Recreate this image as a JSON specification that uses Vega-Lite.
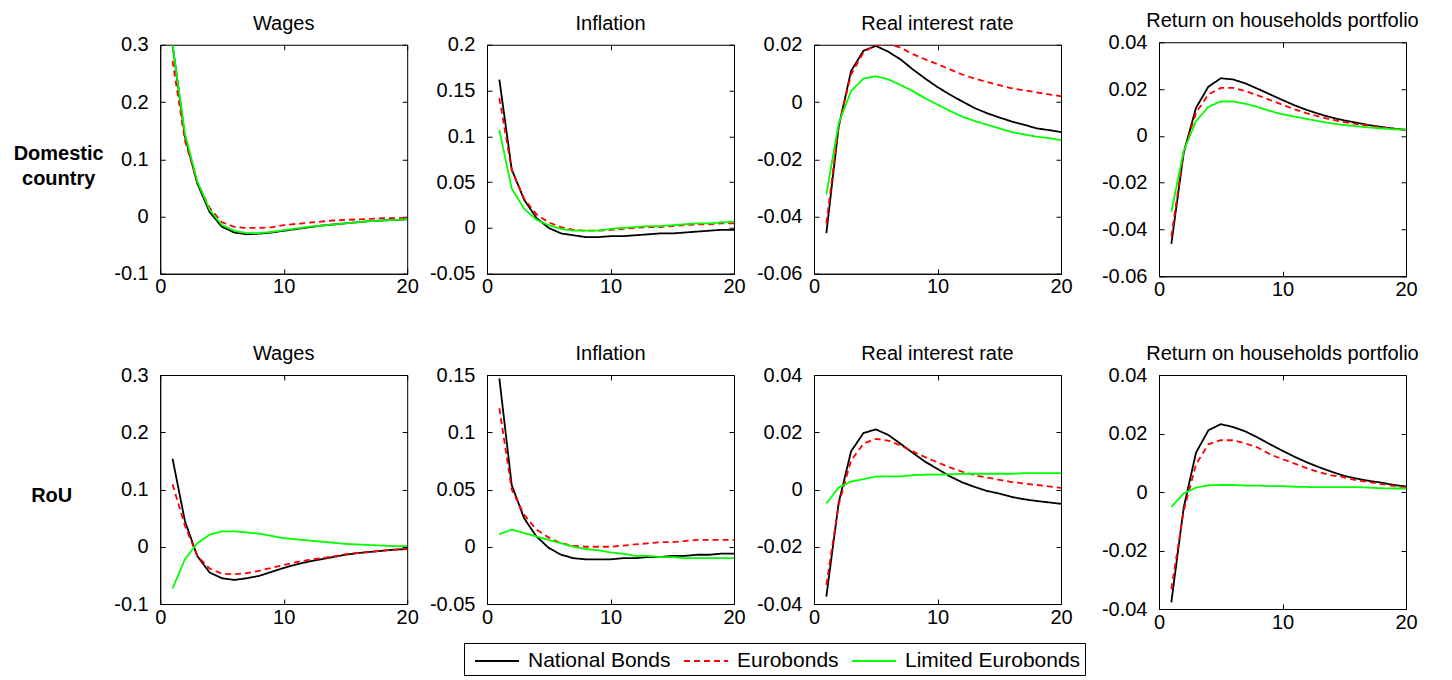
{
  "$schema": "https://vega.github.io/schema/vega-lite/v6.json",
  "padding": {"left": 12, "top": 10, "right": 5, "bottom": 2},
  "background": "#ffffff",
  "datasets": {
    "irf": [
      {"p":"DW","t":1,"NB":0.300,"EB":0.272,"LE":0.300},
      {"p":"DW","t":2,"NB":0.140,"EB":0.133,"LE":0.145},
      {"p":"DW","t":3,"NB":0.058,"EB":0.060,"LE":0.062},
      {"p":"DW","t":4,"NB":0.008,"EB":0.015,"LE":0.012},
      {"p":"DW","t":5,"NB":-0.018,"EB":-0.010,"LE":-0.015},
      {"p":"DW","t":6,"NB":-0.028,"EB":-0.018,"LE":-0.025},
      {"p":"DW","t":7,"NB":-0.031,"EB":-0.020,"LE":-0.029},
      {"p":"DW","t":8,"NB":-0.030,"EB":-0.020,"LE":-0.029},
      {"p":"DW","t":9,"NB":-0.028,"EB":-0.019,"LE":-0.027},
      {"p":"DW","t":10,"NB":-0.025,"EB":-0.015,"LE":-0.024},
      {"p":"DW","t":11,"NB":-0.022,"EB":-0.013,"LE":-0.021},
      {"p":"DW","t":12,"NB":-0.019,"EB":-0.011,"LE":-0.018},
      {"p":"DW","t":13,"NB":-0.016,"EB":-0.009,"LE":-0.016},
      {"p":"DW","t":14,"NB":-0.014,"EB":-0.007,"LE":-0.014},
      {"p":"DW","t":15,"NB":-0.012,"EB":-0.006,"LE":-0.012},
      {"p":"DW","t":16,"NB":-0.010,"EB":-0.005,"LE":-0.010},
      {"p":"DW","t":17,"NB":-0.008,"EB":-0.004,"LE":-0.008},
      {"p":"DW","t":18,"NB":-0.007,"EB":-0.003,"LE":-0.007},
      {"p":"DW","t":19,"NB":-0.006,"EB":-0.003,"LE":-0.006},
      {"p":"DW","t":20,"NB":-0.005,"EB":-0.003,"LE":-0.005},

      {"p":"DI","t":1,"NB":0.162,"EB":0.142,"LE":0.107},
      {"p":"DI","t":2,"NB":0.064,"EB":0.063,"LE":0.043},
      {"p":"DI","t":3,"NB":0.031,"EB":0.032,"LE":0.021},
      {"p":"DI","t":4,"NB":0.011,"EB":0.015,"LE":0.009},
      {"p":"DI","t":5,"NB":0.000,"EB":0.006,"LE":0.003},
      {"p":"DI","t":6,"NB":-0.006,"EB":0.001,"LE":-0.001},
      {"p":"DI","t":7,"NB":-0.008,"EB":-0.002,"LE":-0.003},
      {"p":"DI","t":8,"NB":-0.010,"EB":-0.003,"LE":-0.003},
      {"p":"DI","t":9,"NB":-0.010,"EB":-0.003,"LE":-0.003},
      {"p":"DI","t":10,"NB":-0.009,"EB":-0.002,"LE":-0.001},
      {"p":"DI","t":11,"NB":-0.009,"EB":-0.001,"LE":0.000},
      {"p":"DI","t":12,"NB":-0.008,"EB":0.000,"LE":0.001},
      {"p":"DI","t":13,"NB":-0.007,"EB":0.001,"LE":0.002},
      {"p":"DI","t":14,"NB":-0.006,"EB":0.001,"LE":0.002},
      {"p":"DI","t":15,"NB":-0.006,"EB":0.002,"LE":0.003},
      {"p":"DI","t":16,"NB":-0.005,"EB":0.003,"LE":0.004},
      {"p":"DI","t":17,"NB":-0.004,"EB":0.004,"LE":0.005},
      {"p":"DI","t":18,"NB":-0.003,"EB":0.004,"LE":0.005},
      {"p":"DI","t":19,"NB":-0.002,"EB":0.005,"LE":0.006},
      {"p":"DI","t":20,"NB":-0.002,"EB":0.005,"LE":0.007},

      {"p":"DR","t":1,"NB":-0.0458,"EB":-0.0424,"LE":-0.0323},
      {"p":"DR","t":2,"NB":-0.0086,"EB":-0.0083,"LE":-0.0074},
      {"p":"DR","t":3,"NB":0.0108,"EB":0.0096,"LE":0.0038},
      {"p":"DR","t":4,"NB":0.0179,"EB":0.0173,"LE":0.0082},
      {"p":"DR","t":5,"NB":0.0196,"EB":0.0199,"LE":0.0090},
      {"p":"DR","t":6,"NB":0.0176,"EB":0.0204,"LE":0.0079},
      {"p":"DR","t":7,"NB":0.0149,"EB":0.0190,"LE":0.0060},
      {"p":"DR","t":8,"NB":0.0114,"EB":0.0167,"LE":0.0038},
      {"p":"DR","t":9,"NB":0.0082,"EB":0.0149,"LE":0.0013},
      {"p":"DR","t":10,"NB":0.0052,"EB":0.0132,"LE":-0.0009},
      {"p":"DR","t":11,"NB":0.0026,"EB":0.0114,"LE":-0.0031},
      {"p":"DR","t":12,"NB":0.0002,"EB":0.0096,"LE":-0.0051},
      {"p":"DR","t":13,"NB":-0.0021,"EB":0.0082,"LE":-0.0066},
      {"p":"DR","t":14,"NB":-0.0039,"EB":0.0070,"LE":-0.0079},
      {"p":"DR","t":15,"NB":-0.0054,"EB":0.0059,"LE":-0.0092},
      {"p":"DR","t":16,"NB":-0.0068,"EB":0.0048,"LE":-0.0105},
      {"p":"DR","t":17,"NB":-0.0079,"EB":0.0041,"LE":-0.0113},
      {"p":"DR","t":18,"NB":-0.0092,"EB":0.0034,"LE":-0.0121},
      {"p":"DR","t":19,"NB":-0.0098,"EB":0.0027,"LE":-0.0126},
      {"p":"DR","t":20,"NB":-0.0105,"EB":0.0020,"LE":-0.0133},

      {"p":"DP","t":1,"NB":-0.0462,"EB":-0.0430,"LE":-0.0324},
      {"p":"DP","t":2,"NB":-0.0072,"EB":-0.0069,"LE":-0.0064},
      {"p":"DP","t":3,"NB":0.0120,"EB":0.0099,"LE":0.0063},
      {"p":"DP","t":4,"NB":0.0210,"EB":0.0177,"LE":0.0124},
      {"p":"DP","t":5,"NB":0.0246,"EB":0.0205,"LE":0.0147},
      {"p":"DP","t":6,"NB":0.0241,"EB":0.0205,"LE":0.0147},
      {"p":"DP","t":7,"NB":0.0224,"EB":0.0191,"LE":0.0137},
      {"p":"DP","t":8,"NB":0.0201,"EB":0.0173,"LE":0.0123},
      {"p":"DP","t":9,"NB":0.0177,"EB":0.0153,"LE":0.0106},
      {"p":"DP","t":10,"NB":0.0153,"EB":0.0133,"LE":0.0092},
      {"p":"DP","t":11,"NB":0.0130,"EB":0.0113,"LE":0.0082},
      {"p":"DP","t":12,"NB":0.0110,"EB":0.0096,"LE":0.0072},
      {"p":"DP","t":13,"NB":0.0093,"EB":0.0082,"LE":0.0062},
      {"p":"DP","t":14,"NB":0.0078,"EB":0.0069,"LE":0.0053},
      {"p":"DP","t":15,"NB":0.0066,"EB":0.0059,"LE":0.0046},
      {"p":"DP","t":16,"NB":0.0056,"EB":0.0050,"LE":0.0041},
      {"p":"DP","t":17,"NB":0.0046,"EB":0.0044,"LE":0.0036},
      {"p":"DP","t":18,"NB":0.0038,"EB":0.0036,"LE":0.0032},
      {"p":"DP","t":19,"NB":0.0031,"EB":0.0031,"LE":0.0028},
      {"p":"DP","t":20,"NB":0.0025,"EB":0.0026,"LE":0.0026},

      {"p":"RW","t":1,"NB":0.154,"EB":0.109,"LE":-0.073},
      {"p":"RW","t":2,"NB":0.045,"EB":0.037,"LE":-0.022},
      {"p":"RW","t":3,"NB":-0.016,"EB":-0.016,"LE":0.006},
      {"p":"RW","t":4,"NB":-0.045,"EB":-0.038,"LE":0.021},
      {"p":"RW","t":5,"NB":-0.055,"EB":-0.047,"LE":0.027},
      {"p":"RW","t":6,"NB":-0.058,"EB":-0.048,"LE":0.027},
      {"p":"RW","t":7,"NB":-0.055,"EB":-0.046,"LE":0.025},
      {"p":"RW","t":8,"NB":-0.051,"EB":-0.042,"LE":0.023},
      {"p":"RW","t":9,"NB":-0.044,"EB":-0.037,"LE":0.019},
      {"p":"RW","t":10,"NB":-0.037,"EB":-0.032,"LE":0.015},
      {"p":"RW","t":11,"NB":-0.031,"EB":-0.027,"LE":0.013},
      {"p":"RW","t":12,"NB":-0.026,"EB":-0.023,"LE":0.011},
      {"p":"RW","t":13,"NB":-0.022,"EB":-0.020,"LE":0.009},
      {"p":"RW","t":14,"NB":-0.018,"EB":-0.017,"LE":0.007},
      {"p":"RW","t":15,"NB":-0.014,"EB":-0.013,"LE":0.005},
      {"p":"RW","t":16,"NB":-0.011,"EB":-0.011,"LE":0.004},
      {"p":"RW","t":17,"NB":-0.009,"EB":-0.009,"LE":0.003},
      {"p":"RW","t":18,"NB":-0.007,"EB":-0.007,"LE":0.002},
      {"p":"RW","t":19,"NB":-0.005,"EB":-0.005,"LE":0.001},
      {"p":"RW","t":20,"NB":-0.004,"EB":-0.004,"LE":0.001},

      {"p":"RI","t":1,"NB":0.147,"EB":0.121,"LE":0.011},
      {"p":"RI","t":2,"NB":0.054,"EB":0.050,"LE":0.015},
      {"p":"RI","t":3,"NB":0.025,"EB":0.028,"LE":0.012},
      {"p":"RI","t":4,"NB":0.009,"EB":0.015,"LE":0.009},
      {"p":"RI","t":5,"NB":-0.001,"EB":0.008,"LE":0.006},
      {"p":"RI","t":6,"NB":-0.007,"EB":0.003,"LE":0.003},
      {"p":"RI","t":7,"NB":-0.010,"EB":0.001,"LE":0.000},
      {"p":"RI","t":8,"NB":-0.011,"EB":0.000,"LE":-0.002},
      {"p":"RI","t":9,"NB":-0.011,"EB":0.000,"LE":-0.003},
      {"p":"RI","t":10,"NB":-0.011,"EB":0.000,"LE":-0.005},
      {"p":"RI","t":11,"NB":-0.010,"EB":0.001,"LE":-0.006},
      {"p":"RI","t":12,"NB":-0.010,"EB":0.002,"LE":-0.008},
      {"p":"RI","t":13,"NB":-0.009,"EB":0.003,"LE":-0.008},
      {"p":"RI","t":14,"NB":-0.009,"EB":0.004,"LE":-0.009},
      {"p":"RI","t":15,"NB":-0.008,"EB":0.004,"LE":-0.009},
      {"p":"RI","t":16,"NB":-0.008,"EB":0.005,"LE":-0.010},
      {"p":"RI","t":17,"NB":-0.007,"EB":0.006,"LE":-0.010},
      {"p":"RI","t":18,"NB":-0.007,"EB":0.006,"LE":-0.010},
      {"p":"RI","t":19,"NB":-0.006,"EB":0.006,"LE":-0.010},
      {"p":"RI","t":20,"NB":-0.006,"EB":0.006,"LE":-0.010},

      {"p":"RR","t":1,"NB":-0.0374,"EB":-0.0333,"LE":-0.0049},
      {"p":"RR","t":2,"NB":-0.0046,"EB":-0.0052,"LE":0.0007},
      {"p":"RR","t":3,"NB":0.0133,"EB":0.0101,"LE":0.0028},
      {"p":"RR","t":4,"NB":0.0197,"EB":0.0160,"LE":0.0036},
      {"p":"RR","t":5,"NB":0.0210,"EB":0.0177,"LE":0.0045},
      {"p":"RR","t":6,"NB":0.0191,"EB":0.0171,"LE":0.0046},
      {"p":"RR","t":7,"NB":0.0160,"EB":0.0154,"LE":0.0046},
      {"p":"RR","t":8,"NB":0.0128,"EB":0.0133,"LE":0.0050},
      {"p":"RR","t":9,"NB":0.0097,"EB":0.0113,"LE":0.0052},
      {"p":"RR","t":10,"NB":0.0072,"EB":0.0095,"LE":0.0052},
      {"p":"RR","t":11,"NB":0.0046,"EB":0.0077,"LE":0.0053},
      {"p":"RR","t":12,"NB":0.0025,"EB":0.0062,"LE":0.0055},
      {"p":"RR","t":13,"NB":0.0009,"EB":0.0050,"LE":0.0055},
      {"p":"RR","t":14,"NB":-0.0005,"EB":0.0042,"LE":0.0055},
      {"p":"RR","t":15,"NB":-0.0014,"EB":0.0034,"LE":0.0055},
      {"p":"RR","t":16,"NB":-0.0026,"EB":0.0026,"LE":0.0055},
      {"p":"RR","t":17,"NB":-0.0034,"EB":0.0021,"LE":0.0057},
      {"p":"RR","t":18,"NB":-0.0040,"EB":0.0016,"LE":0.0057},
      {"p":"RR","t":19,"NB":-0.0045,"EB":0.0011,"LE":0.0057},
      {"p":"RR","t":20,"NB":-0.0050,"EB":0.0006,"LE":0.0057},

      {"p":"RP","t":1,"NB":-0.0377,"EB":-0.0332,"LE":-0.0051},
      {"p":"RP","t":2,"NB":-0.0053,"EB":-0.0064,"LE":-0.0005},
      {"p":"RP","t":3,"NB":0.0135,"EB":0.0095,"LE":0.0015},
      {"p":"RP","t":4,"NB":0.0211,"EB":0.0163,"LE":0.0023},
      {"p":"RP","t":5,"NB":0.0232,"EB":0.0177,"LE":0.0024},
      {"p":"RP","t":6,"NB":0.0222,"EB":0.0177,"LE":0.0024},
      {"p":"RP","t":7,"NB":0.0207,"EB":0.0166,"LE":0.0022},
      {"p":"RP","t":8,"NB":0.0186,"EB":0.0152,"LE":0.0022},
      {"p":"RP","t":9,"NB":0.0163,"EB":0.0129,"LE":0.0020},
      {"p":"RP","t":10,"NB":0.0141,"EB":0.0112,"LE":0.0020},
      {"p":"RP","t":11,"NB":0.0120,"EB":0.0097,"LE":0.0018},
      {"p":"RP","t":12,"NB":0.0101,"EB":0.0081,"LE":0.0017},
      {"p":"RP","t":13,"NB":0.0084,"EB":0.0067,"LE":0.0017},
      {"p":"RP","t":14,"NB":0.0069,"EB":0.0057,"LE":0.0017},
      {"p":"RP","t":15,"NB":0.0055,"EB":0.0050,"LE":0.0017},
      {"p":"RP","t":16,"NB":0.0046,"EB":0.0040,"LE":0.0017},
      {"p":"RP","t":17,"NB":0.0038,"EB":0.0034,"LE":0.0015},
      {"p":"RP","t":18,"NB":0.0032,"EB":0.0027,"LE":0.0013},
      {"p":"RP","t":19,"NB":0.0024,"EB":0.0021,"LE":0.0012},
      {"p":"RP","t":20,"NB":0.0019,"EB":0.0015,"LE":0.0012}
    ]
  },
  "data": {"name": "irf"},
  "bounds": "full",
  "align": "each",
  "center": true,
  "columns": 4,
  "spacing": {"row": 43, "column": 9},
  "resolve": {"scale": {"color": "shared", "strokeDash": "shared", "x": "independent", "y": "independent"}},
  "concat": [
    {
      "title": "Wages", "width": 247, "height": 229,
      "transform": [{"filter": "datum.p == 'DW'"}, {"fold": ["NB", "EB", "LE"], "as": ["s", "v"]}],
      "resolve": {"axis": {"x": "independent", "y": "independent"}},
      "layer": [
        {"mark": {"type": "line", "strokeWidth": 1.8, "clip": true},
         "encoding": {
          "x": {"field": "t", "type": "quantitative", "scale": {"domain": [0, 20], "nice": false}, "axis": {"values": [0, 10, 20], "title": null}},
          "y": {"field": "v", "type": "quantitative", "scale": {"domain": [-0.1, 0.3], "nice": false, "zero": false},
                "axis": {"values": [-0.1, 0, 0.1, 0.2, 0.3], "labelExpr": "'' + datum.value",
                         "title": ["Domestic", "country"], "titleAngle": 0, "titleAlign": "center", "titleBaseline": "alphabetic",
                         "titleX": -102, "titleY": 115, "titleFontWeight": "bold", "titleFontSize": 20, "titleLineHeight": 25}},
          "color": {"field": "s", "type": "nominal", "scale": {"domain": ["NB", "EB", "LE"], "range": ["#000000", "#ff0000", "#00ff00"]},
                    "legend": {"title": null, "orient": "none", "legendX": 304, "legendY": 601, "direction": "horizontal", "symbolType": "M-0.538,0H2.846", "labelLimit": 400,
                               "labelExpr": "datum.label == 'NB' ? 'National Bonds' : datum.label == 'EB' ? 'Eurobonds' : 'Limited Eurobonds'"}},
          "strokeDash": {"field": "s", "type": "nominal", "scale": {"domain": ["NB", "EB", "LE"], "range": [[1, 0], [6, 4], [1, 0]]},
                    "legend": {"title": null, "orient": "none", "legendX": 304, "legendY": 601, "direction": "horizontal", "symbolType": "M-0.538,0H2.846", "labelLimit": 400,
                               "labelExpr": "datum.label == 'NB' ? 'National Bonds' : datum.label == 'EB' ? 'Eurobonds' : 'Limited Eurobonds'"}}
         }},
        {"mark": {"type": "line", "strokeOpacity": 0},
         "encoding": {
          "x": {"field": "t", "type": "quantitative", "scale": {"domain": [0, 20], "nice": false}, "axis": {"orient": "top", "values": [0, 10, 20], "labels": false, "domain": false, "title": null}},
          "y": {"field": "v", "type": "quantitative", "scale": {"domain": [-0.1, 0.3], "nice": false, "zero": false}, "axis": {"orient": "right", "values": [-0.1, 0, 0.1, 0.2, 0.3], "labels": false, "domain": false, "title": null}}
         }}
      ]
    },
    {
      "title": "Inflation", "width": 247, "height": 229,
      "transform": [{"filter": "datum.p == 'DI'"}, {"fold": ["NB", "EB", "LE"], "as": ["s", "v"]}],
      "resolve": {"axis": {"x": "independent", "y": "independent"}},
      "layer": [
        {"mark": {"type": "line", "strokeWidth": 1.8, "clip": true},
         "encoding": {
          "x": {"field": "t", "type": "quantitative", "scale": {"domain": [0, 20], "nice": false}, "axis": {"values": [0, 10, 20], "title": null}},
          "y": {"field": "v", "type": "quantitative", "scale": {"domain": [-0.05, 0.2], "nice": false, "zero": false},
                "axis": {"values": [-0.05, 0, 0.05, 0.1, 0.15, 0.2], "labelExpr": "'' + datum.value", "title": null}},
          "color": {"field": "s", "type": "nominal", "scale": {"domain": ["NB", "EB", "LE"], "range": ["#000000", "#ff0000", "#00ff00"]}},
          "strokeDash": {"field": "s", "type": "nominal", "scale": {"domain": ["NB", "EB", "LE"], "range": [[1, 0], [6, 4], [1, 0]]}}
         }},
        {"mark": {"type": "line", "strokeOpacity": 0},
         "encoding": {
          "x": {"field": "t", "type": "quantitative", "scale": {"domain": [0, 20], "nice": false}, "axis": {"orient": "top", "values": [0, 10, 20], "labels": false, "domain": false, "title": null}},
          "y": {"field": "v", "type": "quantitative", "scale": {"domain": [-0.05, 0.2], "nice": false, "zero": false}, "axis": {"orient": "right", "values": [-0.05, 0, 0.05, 0.1, 0.15, 0.2], "labels": false, "domain": false, "title": null}}
         }}
      ]
    },
    {
      "title": "Real interest rate", "width": 247, "height": 229,
      "transform": [{"filter": "datum.p == 'DR'"}, {"fold": ["NB", "EB", "LE"], "as": ["s", "v"]}],
      "resolve": {"axis": {"x": "independent", "y": "independent"}},
      "layer": [
        {"mark": {"type": "line", "strokeWidth": 1.8, "clip": true},
         "encoding": {
          "x": {"field": "t", "type": "quantitative", "scale": {"domain": [0, 20], "nice": false}, "axis": {"values": [0, 10, 20], "title": null}},
          "y": {"field": "v", "type": "quantitative", "scale": {"domain": [-0.06, 0.02], "nice": false, "zero": false},
                "axis": {"values": [-0.06, -0.04, -0.02, 0, 0.02], "labelExpr": "'' + datum.value", "title": null}},
          "color": {"field": "s", "type": "nominal", "scale": {"domain": ["NB", "EB", "LE"], "range": ["#000000", "#ff0000", "#00ff00"]}},
          "strokeDash": {"field": "s", "type": "nominal", "scale": {"domain": ["NB", "EB", "LE"], "range": [[1, 0], [6, 4], [1, 0]]}}
         }},
        {"mark": {"type": "line", "strokeOpacity": 0},
         "encoding": {
          "x": {"field": "t", "type": "quantitative", "scale": {"domain": [0, 20], "nice": false}, "axis": {"orient": "top", "values": [0, 10, 20], "labels": false, "domain": false, "title": null}},
          "y": {"field": "v", "type": "quantitative", "scale": {"domain": [-0.06, 0.02], "nice": false, "zero": false}, "axis": {"orient": "right", "values": [-0.06, -0.04, -0.02, 0, 0.02], "labels": false, "domain": false, "title": null}}
         }}
      ]
    },
    {
      "title": "Return on households portfolio", "width": 247, "height": 234,
      "transform": [{"filter": "datum.p == 'DP'"}, {"fold": ["NB", "EB", "LE"], "as": ["s", "v"]}],
      "resolve": {"axis": {"x": "independent", "y": "independent"}},
      "layer": [
        {"mark": {"type": "line", "strokeWidth": 1.8, "clip": true},
         "encoding": {
          "x": {"field": "t", "type": "quantitative", "scale": {"domain": [0, 20], "nice": false}, "axis": {"values": [0, 10, 20], "title": null}},
          "y": {"field": "v", "type": "quantitative", "scale": {"domain": [-0.06, 0.04], "nice": false, "zero": false},
                "axis": {"values": [-0.06, -0.04, -0.02, 0, 0.02, 0.04], "labelExpr": "'' + datum.value", "title": " ", "titleFontSize": 12, "titlePadding": 5}},
          "color": {"field": "s", "type": "nominal", "scale": {"domain": ["NB", "EB", "LE"], "range": ["#000000", "#ff0000", "#00ff00"]}},
          "strokeDash": {"field": "s", "type": "nominal", "scale": {"domain": ["NB", "EB", "LE"], "range": [[1, 0], [6, 4], [1, 0]]}}
         }},
        {"mark": {"type": "line", "strokeOpacity": 0},
         "encoding": {
          "x": {"field": "t", "type": "quantitative", "scale": {"domain": [0, 20], "nice": false}, "axis": {"orient": "top", "values": [0, 10, 20], "labels": false, "domain": false, "title": null}},
          "y": {"field": "v", "type": "quantitative", "scale": {"domain": [-0.06, 0.04], "nice": false, "zero": false}, "axis": {"orient": "right", "values": [-0.06, -0.04, -0.02, 0, 0.02, 0.04], "labels": false, "domain": false, "title": null}}
         }}
      ]
    },
    {
      "title": "Wages", "width": 247, "height": 229,
      "transform": [{"filter": "datum.p == 'RW'"}, {"fold": ["NB", "EB", "LE"], "as": ["s", "v"]}],
      "resolve": {"axis": {"x": "independent", "y": "independent"}},
      "layer": [
        {"mark": {"type": "line", "strokeWidth": 1.8, "clip": true},
         "encoding": {
          "x": {"field": "t", "type": "quantitative", "scale": {"domain": [0, 20], "nice": false}, "axis": {"values": [0, 10, 20], "title": null}},
          "y": {"field": "v", "type": "quantitative", "scale": {"domain": [-0.1, 0.3], "nice": false, "zero": false},
                "axis": {"values": [-0.1, 0, 0.1, 0.2, 0.3], "labelExpr": "'' + datum.value",
                         "title": "RoU", "titleAngle": 0, "titleAlign": "center", "titleBaseline": "alphabetic",
                         "titleX": -109, "titleY": 126, "titleFontWeight": "bold", "titleFontSize": 20}},
          "color": {"field": "s", "type": "nominal", "scale": {"domain": ["NB", "EB", "LE"], "range": ["#000000", "#ff0000", "#00ff00"]}},
          "strokeDash": {"field": "s", "type": "nominal", "scale": {"domain": ["NB", "EB", "LE"], "range": [[1, 0], [6, 4], [1, 0]]}}
         }},
        {"mark": {"type": "line", "strokeOpacity": 0},
         "encoding": {
          "x": {"field": "t", "type": "quantitative", "scale": {"domain": [0, 20], "nice": false}, "axis": {"orient": "top", "values": [0, 10, 20], "labels": false, "domain": false, "title": null}},
          "y": {"field": "v", "type": "quantitative", "scale": {"domain": [-0.1, 0.3], "nice": false, "zero": false}, "axis": {"orient": "right", "values": [-0.1, 0, 0.1, 0.2, 0.3], "labels": false, "domain": false, "title": null}}
         }}
      ]
    },
    {
      "title": "Inflation", "width": 247, "height": 229,
      "transform": [{"filter": "datum.p == 'RI'"}, {"fold": ["NB", "EB", "LE"], "as": ["s", "v"]}],
      "resolve": {"axis": {"x": "independent", "y": "independent"}},
      "layer": [
        {"mark": {"type": "line", "strokeWidth": 1.8, "clip": true},
         "encoding": {
          "x": {"field": "t", "type": "quantitative", "scale": {"domain": [0, 20], "nice": false}, "axis": {"values": [0, 10, 20], "title": null}},
          "y": {"field": "v", "type": "quantitative", "scale": {"domain": [-0.05, 0.15], "nice": false, "zero": false},
                "axis": {"values": [-0.05, 0, 0.05, 0.1, 0.15], "labelExpr": "'' + datum.value", "title": null}},
          "color": {"field": "s", "type": "nominal", "scale": {"domain": ["NB", "EB", "LE"], "range": ["#000000", "#ff0000", "#00ff00"]}},
          "strokeDash": {"field": "s", "type": "nominal", "scale": {"domain": ["NB", "EB", "LE"], "range": [[1, 0], [6, 4], [1, 0]]}}
         }},
        {"mark": {"type": "line", "strokeOpacity": 0},
         "encoding": {
          "x": {"field": "t", "type": "quantitative", "scale": {"domain": [0, 20], "nice": false}, "axis": {"orient": "top", "values": [0, 10, 20], "labels": false, "domain": false, "title": null}},
          "y": {"field": "v", "type": "quantitative", "scale": {"domain": [-0.05, 0.15], "nice": false, "zero": false}, "axis": {"orient": "right", "values": [-0.05, 0, 0.05, 0.1, 0.15], "labels": false, "domain": false, "title": null}}
         }}
      ]
    },
    {
      "title": "Real interest rate", "width": 247, "height": 229,
      "transform": [{"filter": "datum.p == 'RR'"}, {"fold": ["NB", "EB", "LE"], "as": ["s", "v"]}],
      "resolve": {"axis": {"x": "independent", "y": "independent"}},
      "layer": [
        {"mark": {"type": "line", "strokeWidth": 1.8, "clip": true},
         "encoding": {
          "x": {"field": "t", "type": "quantitative", "scale": {"domain": [0, 20], "nice": false}, "axis": {"values": [0, 10, 20], "title": null}},
          "y": {"field": "v", "type": "quantitative", "scale": {"domain": [-0.04, 0.04], "nice": false, "zero": false},
                "axis": {"values": [-0.04, -0.02, 0, 0.02, 0.04], "labelExpr": "'' + datum.value", "title": null}},
          "color": {"field": "s", "type": "nominal", "scale": {"domain": ["NB", "EB", "LE"], "range": ["#000000", "#ff0000", "#00ff00"]}},
          "strokeDash": {"field": "s", "type": "nominal", "scale": {"domain": ["NB", "EB", "LE"], "range": [[1, 0], [6, 4], [1, 0]]}}
         }},
        {"mark": {"type": "line", "strokeOpacity": 0},
         "encoding": {
          "x": {"field": "t", "type": "quantitative", "scale": {"domain": [0, 20], "nice": false}, "axis": {"orient": "top", "values": [0, 10, 20], "labels": false, "domain": false, "title": null}},
          "y": {"field": "v", "type": "quantitative", "scale": {"domain": [-0.04, 0.04], "nice": false, "zero": false}, "axis": {"orient": "right", "values": [-0.04, -0.02, 0, 0.02, 0.04], "labels": false, "domain": false, "title": null}}
         }}
      ]
    },
    {
      "title": "Return on households portfolio", "width": 247, "height": 234,
      "transform": [{"filter": "datum.p == 'RP'"}, {"fold": ["NB", "EB", "LE"], "as": ["s", "v"]}],
      "resolve": {"axis": {"x": "independent", "y": "independent"}},
      "layer": [
        {"mark": {"type": "line", "strokeWidth": 1.8, "clip": true},
         "encoding": {
          "x": {"field": "t", "type": "quantitative", "scale": {"domain": [0, 20], "nice": false}, "axis": {"values": [0, 10, 20], "title": null}},
          "y": {"field": "v", "type": "quantitative", "scale": {"domain": [-0.04, 0.04], "nice": false, "zero": false},
                "axis": {"values": [-0.04, -0.02, 0, 0.02, 0.04], "labelExpr": "'' + datum.value", "title": " ", "titleFontSize": 12, "titlePadding": 5}},
          "color": {"field": "s", "type": "nominal", "scale": {"domain": ["NB", "EB", "LE"], "range": ["#000000", "#ff0000", "#00ff00"]}},
          "strokeDash": {"field": "s", "type": "nominal", "scale": {"domain": ["NB", "EB", "LE"], "range": [[1, 0], [6, 4], [1, 0]]}}
         }},
        {"mark": {"type": "line", "strokeOpacity": 0},
         "encoding": {
          "x": {"field": "t", "type": "quantitative", "scale": {"domain": [0, 20], "nice": false}, "axis": {"orient": "top", "values": [0, 10, 20], "labels": false, "domain": false, "title": null}},
          "y": {"field": "v", "type": "quantitative", "scale": {"domain": [-0.04, 0.04], "nice": false, "zero": false}, "axis": {"orient": "right", "values": [-0.04, -0.02, 0, 0.02, 0.04], "labels": false, "domain": false, "title": null}}
         }}
      ]
    }
  ],
  "config": {
    "font": "Liberation Sans",
    "view": {"stroke": "#000000", "strokeWidth": 1},
    "axis": {"grid": false, "domainColor": "#000000", "tickColor": "#000000", "labelColor": "#000000", "titleColor": "#000000",
             "labelFont": "Liberation Sans", "labelFontSize": 20, "tickSize": -5, "labelFlush": false, "labelOverlap": false},
    "axisY": {"labelPadding": 17},
    "axisX": {"labelPadding": 8},
    "title": {"font": "Liberation Sans", "fontSize": 20, "fontWeight": "normal", "color": "#000000", "baseline": "alphabetic", "offset": 1},
    "legend": {"strokeColor": "#000000", "fillColor": "#ffffff", "padding": 4, "labelFont": "Liberation Sans", "labelFontSize": 21, "labelLimit": 400,
               "labelColor": "#000000", "symbolType": "M-0.538,0H2.846", "symbolSize": 676, "symbolStrokeWidth": 2, "symbolFillColor": "transparent",
               "labelOffset": 32, "columnPadding": 6, "cornerRadius": 0}
  }
}
